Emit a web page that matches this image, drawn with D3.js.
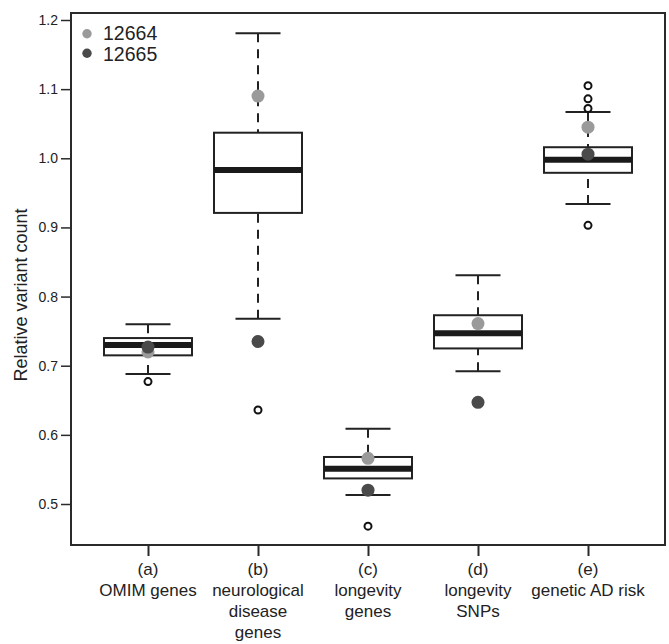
<!DOCTYPE html>
<html>
<head>
  <meta charset="UTF-8">
  <style>
    body { margin: 0; background: #fff; }
    svg text { font-family: "Liberation Sans", Arial, sans-serif; fill: #222; }
  </style>
</head>
<body>
<div id="chart_div"></div>
<script src="https://d3js.org/d3.v7.min.js"></script>
<script>

// categories and box statistics
const catIds = ["(a)", "(b)", "(c)", "(d)", "(e)"];
const catNames = [["OMIM genes"], ["neurological", "disease", "genes"], ["longevity", "genes"], ["longevity", "SNPs"], ["genetic AD risk"]];
const whiskerLow  = [0.688, 0.768, 0.513, 0.692, 0.934];
const q1          = [0.715, 0.921, 0.537, 0.725, 0.979];
const median      = [0.730, 0.983, 0.551, 0.747, 0.998];
const q3          = [0.740, 1.037, 0.568, 0.773, 1.016];
const whiskerHigh = [0.760, 1.181, 0.609, 0.831, 1.067];
const outliers    = [[0.677], [0.636], [0.468], [], [0.903, 1.072, 1.086, 1.105]];

// the two individuals
const seriesNames = ["12664", "12665"];
const seriesColors = ["#9a9a9a", "#4a4a4a"];
const s12664 = [0.720, 1.090, 0.566, 0.761, 1.045];
const s12665 = [0.727, 0.735, 0.520, 0.647, 1.006];

const yTicks = [0.5, 0.6, 0.7, 0.8, 0.9, 1.0, 1.1, 1.2];

let width = 669, height = 644;

let svg = d3.select("#chart_div")
    .append("svg")
    .attr("width", width)
    .attr("height", height);

let x = d3.scaleLinear().domain([0.3, 5.7]).range([71, 665]);
let y = d3.scaleLinear().domain([0.5, 1.2]).range([504, 20]);

const plotTop = 13, plotBottom = 545;
const boxHalf = 44, capHalf = 22.5;

// frame
svg.append("rect")
    .attr("x", x(0.3))
    .attr("y", plotTop)
    .attr("width", x(5.7) - x(0.3))
    .attr("height", plotBottom - plotTop)
    .attr("fill", "none")
    .attr("stroke", "#2a2a2a")
    .attr("stroke-width", 2);

// y axis
let yAxis = svg.append("g")
    .attr("transform", "translate(" + x(0.3) + ",0)")
    .call(d3.axisLeft(y).tickValues(yTicks).tickFormat(d3.format(".1f")).tickSize(10).tickPadding(3));
yAxis.select(".domain").remove();
yAxis.selectAll(".tick line").attr("stroke", "#2a2a2a").attr("stroke-width", 1.5);
yAxis.selectAll(".tick text").style("font-size", "14px").attr("fill", "#222");

svg.append("text")
    .attr("transform", "translate(27," + 295 + ") rotate(-90)")
    .attr("text-anchor", "middle")
    .style("font-size", "18px")
    .text("Relative variant count");

// x axis
let xAxis = svg.append("g")
    .attr("transform", "translate(0," + plotBottom + ")")
    .call(d3.axisBottom(x).tickValues(d3.range(1, 6)).tickSize(11).tickFormat(""));
xAxis.select(".domain").remove();
xAxis.selectAll(".tick line").attr("stroke", "#2a2a2a").attr("stroke-width", 2);

catIds.forEach((id, i) => {
    let t = svg.append("text")
        .attr("text-anchor", "middle")
        .style("font-size", "17px");
    [id].concat(catNames[i]).forEach((line, j) => {
        t.append("tspan")
            .attr("x", x(i + 1))
            .attr("y", 575 + j * 21)
            .text(line);
    });
});

// boxes
let boxData = catIds.map((id, i) => ({
    pos: i + 1, lo: whiskerLow[i], q1: q1[i], med: median[i], q3: q3[i], hi: whiskerHigh[i], out: outliers[i]
}));

let boxes = svg.append("g").attr("id", "boxes")
    .selectAll("g")
    .data(boxData)
    .enter()
    .append("g");

// dashed whiskers, drawn from the whisker end towards the box
boxes.append("line")
    .attr("x1", d => x(d.pos)).attr("x2", d => x(d.pos))
    .attr("y1", d => y(d.hi)).attr("y2", d => y(d.q3))
    .attr("stroke", "#222").attr("stroke-width", 2)
    .attr("stroke-dasharray", "9,7");
boxes.append("line")
    .attr("x1", d => x(d.pos)).attr("x2", d => x(d.pos))
    .attr("y1", d => y(d.lo)).attr("y2", d => y(d.q1))
    .attr("stroke", "#222").attr("stroke-width", 2)
    .attr("stroke-dasharray", "9,7");

// whisker caps
boxes.append("line")
    .attr("x1", d => x(d.pos) - capHalf).attr("x2", d => x(d.pos) + capHalf)
    .attr("y1", d => y(d.hi)).attr("y2", d => y(d.hi))
    .attr("stroke", "#222").attr("stroke-width", 2);
boxes.append("line")
    .attr("x1", d => x(d.pos) - capHalf).attr("x2", d => x(d.pos) + capHalf)
    .attr("y1", d => y(d.lo)).attr("y2", d => y(d.lo))
    .attr("stroke", "#222").attr("stroke-width", 2);

// box
boxes.append("rect")
    .attr("x", d => x(d.pos) - boxHalf)
    .attr("y", d => y(d.q3))
    .attr("width", boxHalf * 2)
    .attr("height", d => y(d.q1) - y(d.q3))
    .attr("fill", "#fff")
    .attr("stroke", "#222")
    .attr("stroke-width", 2);

// median
boxes.append("line")
    .attr("x1", d => x(d.pos) - boxHalf).attr("x2", d => x(d.pos) + boxHalf)
    .attr("y1", d => y(d.med)).attr("y2", d => y(d.med))
    .attr("stroke", "#1a1a1a").attr("stroke-width", 6);

// outliers
boxes.selectAll("circle.out")
    .data(d => d.out.map(v => ({ pos: d.pos, v: v })))
    .enter()
    .append("circle")
    .attr("class", "out")
    .attr("cx", d => x(d.pos))
    .attr("cy", d => y(d.v))
    .attr("r", 3.5)
    .attr("fill", "#fff")
    .attr("stroke", "#111")
    .attr("stroke-width", 2);

// individual points, light first then dark on top
[s12664, s12665].forEach((vals, k) => {
    svg.append("g")
        .selectAll("circle")
        .data(vals)
        .enter()
        .append("circle")
        .attr("cx", (d, i) => x(i + 1))
        .attr("cy", d => y(d))
        .attr("r", 6.5)
        .attr("fill", seriesColors[k]);
});

// legend
let legend = svg.append("g").attr("id", "legend");
seriesNames.forEach((name, k) => {
    legend.append("circle")
        .attr("cx", 87)
        .attr("cy", 33.7 + k * 19.6)
        .attr("r", 4.7)
        .attr("fill", seriesColors[k]);
    legend.append("text")
        .attr("x", 103)
        .attr("y", 40 + k * 20.5)
        .style("font-size", "19.5px")
        .text(name);
});

</script>
</body>
</html>
